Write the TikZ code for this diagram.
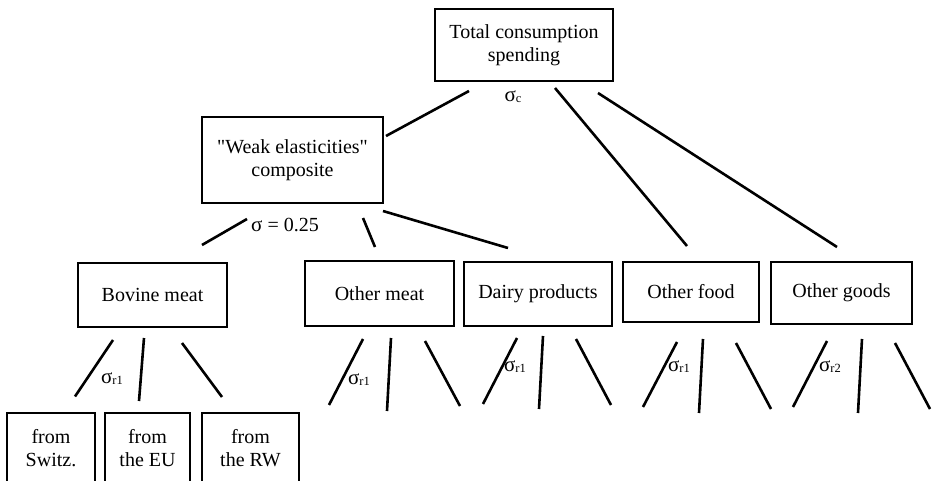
\documentclass[tikz,border=0pt]{standalone}
\usepackage{fontspec}
\setmainfont{Liberation Serif}
\newcommand{\sigsub}[1]{{\fontsize{21}{23}\selectfont σ}\raisebox{-1pt}{\fontsize{12.5}{12}\selectfont #1}}
\tikzset{
    box/.style={draw, line width=2pt, align=center, inner sep=0pt,
        font=\fontsize{20}{23}\selectfont},
    link/.style={line width=2.6pt},
    siglabel/.style={inner sep=0pt, font=\fontsize{20}{23}\selectfont}
}

\begin{document}
\begin{tikzpicture}[x=1pt, y=-1pt]
    \useasboundingbox (0,0) rectangle (935,481);
    \clip (0,0) rectangle (935,481);
    % boxes
    \node[box, minimum width=178pt, minimum height=72pt] (total) at (524,45) {Total consumption\\spending};
    \node[box, minimum width=181pt, minimum height=86pt] (weak) at (292.5,160) {\textquotedbl Weak elasticities\textquotedbl\\composite};
    \node[box, minimum width=149pt, minimum height=64pt] (bov) at (152.5,295) {Bovine meat};
    \node[box, minimum width=149pt, minimum height=65pt] (omeat) at (379.5,293.5) {Other meat};
    \node[box, minimum width=148pt, minimum height=64pt] (dairy) at (538,294) {Dairy products};
    \node[box, minimum width=136pt, minimum height=60pt] (ofood) at (691,292) {Other food};
    \node[box, minimum width=141pt, minimum height=62pt] (ogoods) at (841.5,293) {Other goods};
    \node[box, minimum width=88pt, minimum height=71pt] (swz) at (51,448) {from\\Switz.};
    \node[box, minimum width=85pt, minimum height=70pt] (eu) at (147.5,448) {from\\the EU};
    \node[box, minimum width=97pt, minimum height=70pt] (rw) at (250.5,448) {from\\the RW};
    % upper links
    \draw[link] ([shift={(35,9)}]total.south west) -- ([shift={(2,20)}]weak.north east);
    \draw[link] ([shift={(31,6)}]total.south) -- ([shift={(-4,-15)}]ofood.north);
    \draw[link] ([shift={(-16,11)}]total.south east) -- ([shift={(-4.5,-14)}]ogoods.north);
    \draw[link] ([shift={(-45.5,15)}]weak.south) -- ([shift={(49.5,-17)}]bov.north);
    \draw[link] ([shift={(-21,14)}]weak.south east) -- ([shift={(-4.5,-13)}]omeat.north);
    \draw[link] ([shift={(-1,7)}]weak.south east) -- ([shift={(-30,-13)}]dairy.north);
    % bovine meat by origin
    \draw[link] ([shift={(-39.5,12)}]bov.south) -- ([shift={(24,-15)}]swz.north);
    \draw[link] ([shift={(-8.5,10)}]bov.south) -- ([shift={(-8.5,-11)}]eu.north);
    \draw[link] ([shift={(29.5,15)}]bov.south) -- ([shift={(-28.5,-15)}]rw.north);
    % other goods by origin
    \draw[link] ([shift={(-16.5,12)}]omeat.south) -- ++(-34,66);
    \draw[link] ([shift={(11.5,11)}]omeat.south) -- ++(-4,73);
    \draw[link] ([shift={(45.5,14)}]omeat.south) -- ++(35,65);
    \draw[link] ([shift={(-21,11)}]dairy.south) -- ++(-34,66);
    \draw[link] ([shift={(5,9)}]dairy.south) -- ++(-4,73);
    \draw[link] ([shift={(38,12)}]dairy.south) -- ++(35,66);
    \draw[link] ([shift={(-14,19)}]ofood.south) -- ++(-34,65);
    \draw[link] ([shift={(12,16)}]ofood.south) -- ++(-4,74);
    \draw[link] ([shift={(45,20)}]ofood.south) -- ++(35,66);
    \draw[link] ([shift={(-14.5,16)}]ogoods.south) -- ++(-34,66);
    \draw[link] ([shift={(20.5,14)}]ogoods.south) -- ++(-4,74);
    \draw[link] ([shift={(53.5,18)}]ogoods.south) -- ++(35,66);
    % elasticities
    \node[siglabel] (sc) at (513,97) {\sigsub{c}};
    \node[siglabel] (s025) at (285,225) {{\fontsize{21}{23}\selectfont σ} = 0.25};
    \node[siglabel] (sbov) at (112,379) {\sigsub{r1}};
    \node[siglabel] (someat) at (359,380) {\sigsub{r1}};
    \node[siglabel] (sdairy) at (515,367) {\sigsub{r1}};
    \node[siglabel] (sofood) at (679,367) {\sigsub{r1}};
    \node[siglabel] (sogoods) at (830,367) {\sigsub{r2}};
\end{tikzpicture}
\end{document}
